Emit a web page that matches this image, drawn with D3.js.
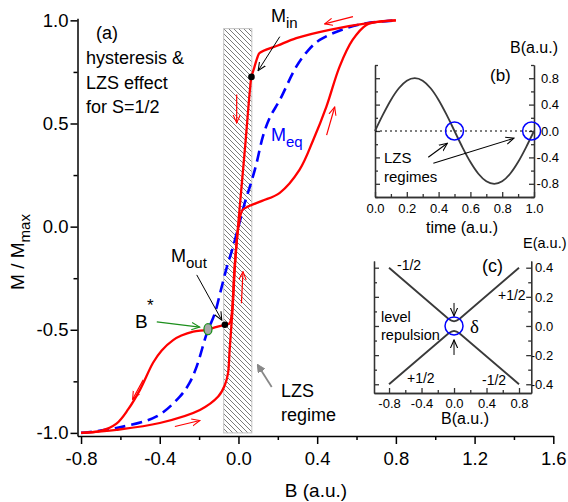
<!DOCTYPE html>
<html>
<head>
<meta charset="utf-8">
<script src="https://cdn.jsdelivr.net/npm/d3@7"></script>
<style>
  body { margin: 0; background: #fff; }
  text { font-family: "Liberation Sans", Arial, sans-serif; }
</style>
</head>
<body>
<svg id="chart" width="568" height="502"></svg>
<script>
// ---- data ----
// main panel (a): field B, magnetisation M/Mmax
let descBranch = [[0.8,1.0],[0.667,0.988],[0.463,0.954],[0.294,0.914],[0.2,0.878],[0.108,0.842],[0.098,0.825],
  [0.08,0.77],[0.066,0.726],[0.058,0.66],[0.035,0.4],[0.007,0.1],[-0.02,-0.2],[-0.035,-0.43],[-0.045,-0.468],
  [-0.069,-0.476],[-0.12,-0.488],[-0.162,-0.5],[-0.23,-0.509],[-0.29,-0.528],[-0.332,-0.55],[-0.39,-0.6],
  [-0.434,-0.66],[-0.5,-0.79],[-0.56,-0.885],[-0.62,-0.955],[-0.7,-0.99],[-0.8,-1.0]];
let ascBranch = [[-0.8,-1.0],[-0.62,-0.985],[-0.4,-0.952],[-0.196,-0.889],[-0.103,-0.824],[-0.07,-0.77],
  [-0.053,-0.71],[-0.045,-0.6],[-0.03,-0.4],[-0.015,-0.15],[0.0,0.0],[0.02,0.08],[0.048,0.097],[0.12,0.125],
  [0.21,0.164],[0.31,0.275],[0.38,0.42],[0.447,0.582],[0.514,0.776],[0.58,0.905],[0.65,0.978],[0.72,0.995],[0.8,1.0]];
let meqCurve = [[-0.8,-1.0],[-0.62,-0.976],[-0.416,-0.92],[-0.298,-0.824],[-0.25,-0.76],[-0.213,-0.68],
  [-0.16,-0.515],[-0.12,-0.42],[-0.09,-0.31],[-0.06,-0.2],[-0.028,-0.1],[0.0,0.0],[0.032,0.115],[0.06,0.2],
  [0.09,0.3],[0.125,0.44],[0.16,0.53],[0.21,0.614],[0.294,0.776],[0.35,0.85],[0.413,0.905],[0.548,0.962],
  [0.65,0.986],[0.8,1.0]];
let lzsBand = [-0.075, 0.068];          // B range of the hatched LZS regime
let lzsBandTop = 0.96;
let pointIn = [0.066, 0.726];
let pointOut = [-0.069, -0.476];
let pointBstar = [-0.155, -0.497];
let xTicks = [-0.8, -0.4, 0.0, 0.4, 0.8, 1.2, 1.6];
let xMinor = [-0.6, -0.2, 0.2, 0.6, 1.0, 1.4];
let yTicks = [-1.0, -0.5, 0.0, 0.5, 1.0];
let yMinor = [-0.75, -0.25, 0.25, 0.75];

// inset (b): time vs field
let sweepTime = [0,0.05,0.1,0.15,0.2,0.25,0.3,0.35,0.4,0.45,0.5,0.55,0.6,0.65,0.7,0.75,0.8,0.85,0.9,0.95,1.0];
let sweepField = [0,0.247,0.47,0.647,0.761,0.8,0.761,0.647,0.47,0.247,0,-0.247,-0.47,-0.647,-0.761,-0.8,-0.761,-0.647,-0.47,-0.247,0];
let lzsTimes = [0.5, 0.985];
let bTimeTicks = [0, 0.2, 0.4, 0.6, 0.8, 1.0];
let bTimeMinor = [0.1, 0.3, 0.5, 0.7, 0.9];
let bFieldTicks = [-0.8, -0.4, 0.0, 0.4, 0.8];
let bFieldMinor = [-1.0, -0.6, -0.2, 0.2, 0.6, 1.0];

// inset (c): level scheme
let upperLevel = [[-0.8,0.4],[-0.07,0.05],[-0.03,0.036],[0,0.032],[0.03,0.036],[0.07,0.05],[0.8,0.4]];
let lowerLevel = [[-0.8,-0.4],[-0.07,-0.052],[-0.03,-0.038],[0,-0.034],[0.03,-0.038],[0.07,-0.052],[0.8,-0.4]];
let cFieldTicks = [-0.8, -0.4, 0.0, 0.4, 0.8];
let cFieldMinor = [-0.6, -0.2, 0.2, 0.6];
let cEnergyTicks = [-0.4, -0.2, 0.0, 0.2, 0.4];
let cEnergyMinor = [-0.3, -0.1, 0.1, 0.3];

let svg = d3.select('#chart');
let fmt = function(d) { return d.toFixed(1); };
let FONT = '"Liberation Sans", Arial, sans-serif';

// arrow heads
let defs = svg.append('defs');
function marker(id, color, filled) {
  defs.append('marker')
    .attr('id', id)
    .attr('viewBox', '0 0 10 10')
    .attr('refX', 9).attr('refY', 5)
    .attr('markerWidth', filled ? 8 : 9).attr('markerHeight', filled ? 8 : 9)
    .attr('markerUnits', 'userSpaceOnUse')
    .attr('orient', 'auto')
    .append('path')
    .attr('d', filled ? 'M0,0L10,5L0,10Z' : 'M0,1L9,5L0,9')
    .attr('fill', filled ? color : 'none')
    .attr('stroke', color)
    .attr('stroke-width', 1.2);
}
marker('arRed', '#ff0000', false);
marker('arBlack', '#000', false);
marker('arGreen', '#1c8f1c', false);
marker('arGray', '#888', true);

let hatch = defs.append('pattern')
  .attr('id', 'hatch')
  .attr('patternUnits', 'userSpaceOnUse')
  .attr('width', 5).attr('height', 5);
hatch.append('rect').attr('width', 5).attr('height', 5).attr('fill', '#fff');
hatch.append('path')
  .attr('d', 'M0,0L5,5M-1,4L1,6M4,-1L6,1')
  .attr('stroke', '#7a7a7a').attr('stroke-width', 1);

function styleAxis(g, size, color, width) {
  g.attr('font-family', null).attr('font-size', null);
  g.select('.domain').attr('stroke', color).attr('stroke-width', width);
  g.selectAll('.tick line').attr('stroke', color).attr('stroke-width', width);
  g.selectAll('.tick text').attr('fill', '#000')
    .style('font-size', size + 'px').style('font-family', FONT);
}

// ================= main panel (a) =================
let x = d3.scaleLinear().domain([-0.818, 1.6]).range([77.5, 553.3]);
let y = d3.scaleLinear().domain([-1.015, 1.01]).range([436, 18.3]);

svg.append('rect')
  .attr('x', x(lzsBand[0])).attr('y', y(lzsBandTop))
  .attr('width', x(lzsBand[1]) - x(lzsBand[0]))
  .attr('height', y(-1.0) - y(lzsBandTop))
  .attr('fill', 'url(#hatch)')
  .attr('stroke', '#c4c4c4').attr('stroke-width', 1);

let line = d3.line()
  .x(function(d) { return x(d[0]); })
  .y(function(d) { return y(d[1]); })
  .curve(d3.curveCatmullRom.alpha(0.5));

svg.append('path').datum(meqCurve)
  .attr('d', line).attr('fill', 'none')
  .attr('stroke', '#0000ff').attr('stroke-width', 2.6)
  .attr('stroke-dasharray', '11,6');

[descBranch, ascBranch].forEach(function(branch) {
  svg.append('path').datum(branch)
    .attr('d', line).attr('fill', 'none')
    .attr('stroke', '#ff0000').attr('stroke-width', 2.3);
});

// axes
let gx = svg.append('g').attr('transform', 'translate(0,' + y.range()[0] + ')');
gx.call(d3.axisBottom(x).tickValues(xTicks).tickFormat(fmt).tickSize(8).tickSizeOuter(0).tickPadding(8));
styleAxis(gx, 18.5, '#000', 1.5);
let gxm = svg.append('g').attr('transform', 'translate(0,' + y.range()[0] + ')');
gxm.call(d3.axisBottom(x).tickValues(xMinor).tickFormat('').tickSize(4).tickSizeOuter(0));
styleAxis(gxm, 10, '#000', 1.5);
gxm.select('.domain').remove();

let gy = svg.append('g').attr('transform', 'translate(' + x.range()[0] + ',0)');
gy.call(d3.axisLeft(y).tickValues(yTicks).tickFormat(fmt).tickSize(7).tickSizeOuter(0).tickPadding(2));
styleAxis(gy, 18.5, '#000', 1.5);
let gym = svg.append('g').attr('transform', 'translate(' + x.range()[0] + ',0)');
gym.call(d3.axisLeft(y).tickValues(yMinor).tickFormat('').tickSize(4).tickSizeOuter(0));
styleAxis(gym, 10, '#000', 1.5);
gym.select('.domain').remove();

// axis titles
svg.append('text').attr('x', 316).attr('y', 497)
  .attr('text-anchor', 'middle').style('font-size', '19px').text('B (a.u.)');
let yt = svg.append('text')
  .attr('transform', 'translate(24,252) rotate(-90)')
  .attr('text-anchor', 'middle').style('font-size', '19px');
yt.append('tspan').text('M / M');
yt.append('tspan').attr('dy', 6).style('font-size', '15px').text('max');

// points
[pointIn, pointOut].forEach(function(p) {
  svg.append('circle').attr('cx', x(p[0])).attr('cy', y(p[1])).attr('r', 3.3).attr('fill', '#000');
});
svg.append('ellipse').attr('cx', x(pointBstar[0])).attr('cy', y(pointBstar[1]))
  .attr('rx', 4).attr('ry', 5.5)
  .attr('fill', '#a8a8a8').attr('stroke', '#1c8f1c').attr('stroke-width', 1.3);

// arrows (data units)
function arrow(scaleX, scaleY, seg, id, color, width) {
  svg.append('line')
    .attr('x1', scaleX(seg[0][0])).attr('y1', scaleY(seg[0][1]))
    .attr('x2', scaleX(seg[1][0])).attr('y2', scaleY(seg[1][1]))
    .attr('stroke', color).attr('stroke-width', width)
    .attr('marker-end', 'url(#' + id + ')');
}
let redArrows = [
  [[0.582, 1.018], [0.438, 0.983]],
  [[-0.009, 0.64], [-0.009, 0.503]],
  [[0.448, 0.444], [0.489, 0.58]],
  [[0.015, -0.371], [0.023, -0.218]],
  [[-0.484, -0.743], [-0.538, -0.837]],
  [[-0.323, -0.969], [-0.196, -0.94]]
];
redArrows.forEach(function(s) { arrow(x, y, s, 'arRed', '#ff0000', 1.2); });
arrow(x, y, [[0.21, 0.921], [0.1, 0.756]], 'arBlack', '#000', 1);
arrow(x, y, [[-0.212, -0.234], [-0.085, -0.453]], 'arBlack', '#000', 1);
arrow(x, y, [[-0.415, -0.462], [-0.197, -0.487]], 'arGreen', '#1c8f1c', 1.2);
arrow(x, y, [[0.169, -0.777], [0.098, -0.671]], 'arGray', '#888', 1.8);

// labels
function label(px, py, str, size, color) {
  return svg.append('text').attr('x', px).attr('y', py)
    .style('font-size', size + 'px').attr('fill', color || '#000').text(str);
}
function subLabel(px, py, main, sub, size, color) {
  let t = svg.append('text').attr('x', px).attr('y', py)
    .style('font-size', size + 'px').attr('fill', color || '#000');
  t.append('tspan').text(main);
  t.append('tspan').attr('dy', 6).style('font-size', (size - 3) + 'px').text(sub);
  return t;
}
label(96, 39, '(a)', 18);
label(86, 64, 'hysteresis &', 18);
label(86, 89, 'LZS effect', 18);
label(86, 113, 'for S=1/2', 18);
subLabel(271, 22, 'M', 'in', 18);
subLabel(271, 141, 'M', 'eq', 18, '#0000ff');
subLabel(171, 262, 'M', 'out', 18);
label(135, 328, 'B', 19);
label(147, 311, '*', 17);
label(281, 397, 'LZS', 18);
label(281, 421, 'regime', 18);

// ================= inset (b) =================
let xb = d3.scaleLinear().domain([0, 1]).range([375, 534]);
let yb = d3.scaleLinear().domain([-1, 1]).range([197, 65]);

let gbl = svg.append('g').attr('transform', 'translate(' + xb(0) + ',0)');
gbl.call(d3.axisRight(yb).tickValues(bFieldTicks).tickFormat('').tickSize(5).tickSizeOuter(0));
styleAxis(gbl, 10, '#333', 1.3);
let gblm = svg.append('g').attr('transform', 'translate(' + xb(0) + ',0)');
gblm.call(d3.axisRight(yb).tickValues(bFieldMinor).tickFormat('').tickSize(3).tickSizeOuter(0));
styleAxis(gblm, 10, '#333', 1.3);

let gbr = svg.append('g').attr('transform', 'translate(' + xb(1) + ',0)');
gbr.call(d3.axisRight(yb).tickValues(bFieldTicks).tickFormat(fmt).tickSize(-5).tickSizeOuter(0).tickPadding(25));
styleAxis(gbr, 13, '#333', 1.3);
gbr.selectAll('.tick text').attr('text-anchor', 'end');
let gbrm = svg.append('g').attr('transform', 'translate(' + xb(1) + ',0)');
gbrm.call(d3.axisRight(yb).tickValues(bFieldMinor).tickFormat('').tickSize(-3).tickSizeOuter(0));
styleAxis(gbrm, 10, '#333', 1.3);

let gbb = svg.append('g').attr('transform', 'translate(0,' + yb(-1) + ')');
gbb.call(d3.axisBottom(xb).tickValues(bTimeTicks).tickFormat(fmt).tickSize(-5).tickSizeOuter(0).tickPadding(7));
styleAxis(gbb, 13, '#333', 1.3);
let gbbm = svg.append('g').attr('transform', 'translate(0,' + yb(-1) + ')');
gbbm.call(d3.axisBottom(xb).tickValues(bTimeMinor).tickFormat('').tickSize(-3).tickSizeOuter(0));
styleAxis(gbbm, 10, '#333', 1.3);

svg.append('line')
  .attr('x1', xb(0)).attr('x2', xb(1)).attr('y1', yb(0)).attr('y2', yb(0))
  .attr('stroke', '#000').attr('stroke-width', 1.2).attr('stroke-dasharray', '2,3');

svg.append('path').datum(d3.zip(sweepTime, sweepField))
  .attr('d', d3.line().x(function(d) { return xb(d[0]); }).y(function(d) { return yb(d[1]); })
    .curve(d3.curveMonotoneX))
  .attr('fill', 'none').attr('stroke', '#3a3a3a').attr('stroke-width', 1.8);

lzsTimes.forEach(function(t) {
  svg.append('circle').attr('cx', xb(t)).attr('cy', yb(0)).attr('r', 9)
    .attr('fill', 'none').attr('stroke', '#0000ff').attr('stroke-width', 1.5);
});
arrow(xb, yb, [[0.335, -0.398], [0.455, -0.186]], 'arBlack', '#000', 1.1);
arrow(xb, yb, [[0.367, -0.489], [0.874, -0.11]], 'arBlack', '#000', 1.1);

label(510, 53, 'B(a.u.)', 16);
label(490, 81, '(b)', 17);
label(384, 163, 'LZS', 15);
label(384, 182, 'regimes', 15);
svg.append('text').attr('x', 462).attr('y', 233).attr('text-anchor', 'middle')
  .style('font-size', '16px').text('time (a.u.)');

// ================= inset (c) =================
let xc = d3.scaleLinear().domain([-0.985, 0.95]).range([374, 531.2]);
let yc = d3.scaleLinear().domain([-0.46, 0.446]).range([393, 261]);

let gcl = svg.append('g').attr('transform', 'translate(' + xc.range()[0] + ',0)');
gcl.call(d3.axisRight(yc).tickValues(cEnergyTicks).tickFormat('').tickSize(5).tickSizeOuter(0));
styleAxis(gcl, 10, '#333', 1.3);
let gclm = svg.append('g').attr('transform', 'translate(' + xc.range()[0] + ',0)');
gclm.call(d3.axisRight(yc).tickValues(cEnergyMinor).tickFormat('').tickSize(3).tickSizeOuter(0));
styleAxis(gclm, 10, '#333', 1.3);

let gcr = svg.append('g').attr('transform', 'translate(' + xc.range()[1] + ',0)');
gcr.call(d3.axisRight(yc).tickValues(cEnergyTicks).tickFormat(fmt).tickSize(-5).tickSizeOuter(0).tickPadding(22));
styleAxis(gcr, 13, '#333', 1.3);
gcr.selectAll('.tick text').attr('text-anchor', 'end');
let gcrm = svg.append('g').attr('transform', 'translate(' + xc.range()[1] + ',0)');
gcrm.call(d3.axisRight(yc).tickValues(cEnergyMinor).tickFormat('').tickSize(-3).tickSizeOuter(0));
styleAxis(gcrm, 10, '#333', 1.3);

let gcb = svg.append('g').attr('transform', 'translate(0,' + yc.range()[0] + ')');
gcb.call(d3.axisBottom(xc).tickValues(cFieldTicks).tickFormat(fmt).tickSize(-5).tickSizeOuter(0).tickPadding(6));
styleAxis(gcb, 13, '#333', 1.3);
let gcbm = svg.append('g').attr('transform', 'translate(0,' + yc.range()[0] + ')');
gcbm.call(d3.axisBottom(xc).tickValues(cFieldMinor).tickFormat('').tickSize(-3).tickSizeOuter(0));
styleAxis(gcbm, 10, '#333', 1.3);

let levelLine = d3.line()
  .x(function(d) { return xc(d[0]); })
  .y(function(d) { return yc(d[1]); });
[upperLevel, lowerLevel].forEach(function(lv) {
  svg.append('path').datum(lv).attr('d', levelLine)
    .attr('fill', 'none').attr('stroke', '#3a3a3a').attr('stroke-width', 1.9);
});
svg.append('circle').attr('cx', xc(0)).attr('cy', yc(0)).attr('r', 9)
  .attr('fill', 'none').attr('stroke', '#0000ff').attr('stroke-width', 1.5);
arrow(xc, yc, [[0, 0.158], [0, 0.069]], 'arBlack', '#000', 1);
arrow(xc, yc, [[0, -0.199], [0, -0.096]], 'arBlack', '#000', 1);

label(523, 248, 'E(a.u.)', 14.5);
label(482, 272, '(c)', 18);
label(397, 270, '-1/2', 14);
label(498, 300, '+1/2', 14);
label(407, 383, '+1/2', 14);
label(482, 385, '-1/2', 14);
label(381, 322, 'level', 14.5);
label(381, 340, 'repulsion', 14.5);
svg.append('text').attr('x', 470).attr('y', 333)
  .style('font-family', '"Liberation Serif", "DejaVu Serif", serif').style('font-size', '19px').text('δ');
svg.append('text').attr('x', 465).attr('y', 424).attr('text-anchor', 'middle')
  .style('font-size', '16px').text('B(a.u.)');
</script>
</body>
</html>
